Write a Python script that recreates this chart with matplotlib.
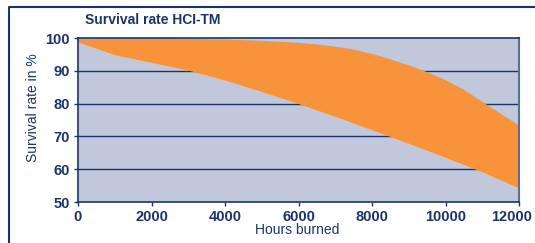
import numpy as np
import matplotlib.pyplot as plt
import matplotlib.transforms as mtransforms
from matplotlib.lines import Line2D

# values
hours_up = [0, 1000, 2000, 3000, 4000, 5000, 6000, 6500, 7000, 7500, 8000, 8500,
            9000, 9500, 10000, 10500, 11000, 11500, 12000]
upper = [100, 100, 100, 99.9, 99.7, 99.3, 98.7, 98.2, 97.5, 96.6, 95.3, 93.6,
         91.8, 89.7, 87.3, 84.3, 80.6, 77.0, 73.4]
hours_lo = [0, 1000, 2000, 3000, 4000, 5000, 6000, 7000, 8000, 9000, 10000, 11000, 12000]
lower = [98.8, 94.9, 92.6, 90.2, 87.2, 83.7, 80.0, 76.1, 72.0, 67.9, 63.6, 59.2, 54.3]
xticks = [0, 2000, 4000, 6000, 8000, 10000, 12000]
yticks = [50, 60, 70, 80, 90, 100]

navy = '#1b3468'
plt.rcParams['font.family'] = ['Liberation Sans', 'DejaVu Sans']

fig = plt.figure(figsize=(5.35, 2.43), dpi=100)
ax = fig.add_axes([78/535, 1 - 202/243, 441/535, 164/243])

ax.set_facecolor('#c1c8dc')
# band between the two curves on a common hour grid
hh = np.array(sorted(set(hours_up) | set(hours_lo)))
ax.fill_between(hh, np.interp(hh, hours_lo, lower), np.interp(hh, hours_up, upper),
                color='#f7943b', lw=0, zorder=2)
for v in yticks[1:-1]:
    ax.axhline(v, color=navy, lw=1.0, zorder=1)

ax.set_xlim(0, 12000)
ax.set_ylim(50, 100)
ax.set_xticks(xticks)
ax.set_yticks(yticks)
ax.tick_params(axis='both', colors=navy, labelsize=10.5, length=3, width=1, direction='out')
ax.tick_params(axis='x', pad=3)
ax.tick_params(axis='y', pad=3)
for lab in ax.get_xticklabels() + ax.get_yticklabels():
    lab.set_fontweight('bold')
last = ax.get_xticklabels()[-1]
last.set_transform(last.get_transform() + mtransforms.ScaledTranslation(-7/100, 0, fig.dpi_scale_trans))

for s in ['left', 'bottom', 'top']:
    ax.spines[s].set_color(navy)
    ax.spines[s].set_linewidth(1.2)
ax.spines['right'].set_color('#5b6e93')
ax.spines['right'].set_linewidth(1.5)

fig.text(297/535, 1 - 230/243, 'Hours burned', color=navy, fontsize=10,
         ha='center', va='center')
fig.text(33/535, 1 - 108/243, 'Survival rate in %', color=navy, fontsize=10,
         ha='center', va='center', rotation=90)
fig.text(85/535, 1 - 20/243, 'Survival rate HCI-TM', color=navy, fontsize=10,
         fontweight='bold', va='center', ha='left')

# outer frame (top and left edges)
fig.add_artist(Line2D([9/535, 9/535, 1], [0, 1 - 7/243, 1 - 7/243],
                      transform=fig.transFigure, color=navy, lw=1.5))

fig.savefig('out.png', dpi=100)
